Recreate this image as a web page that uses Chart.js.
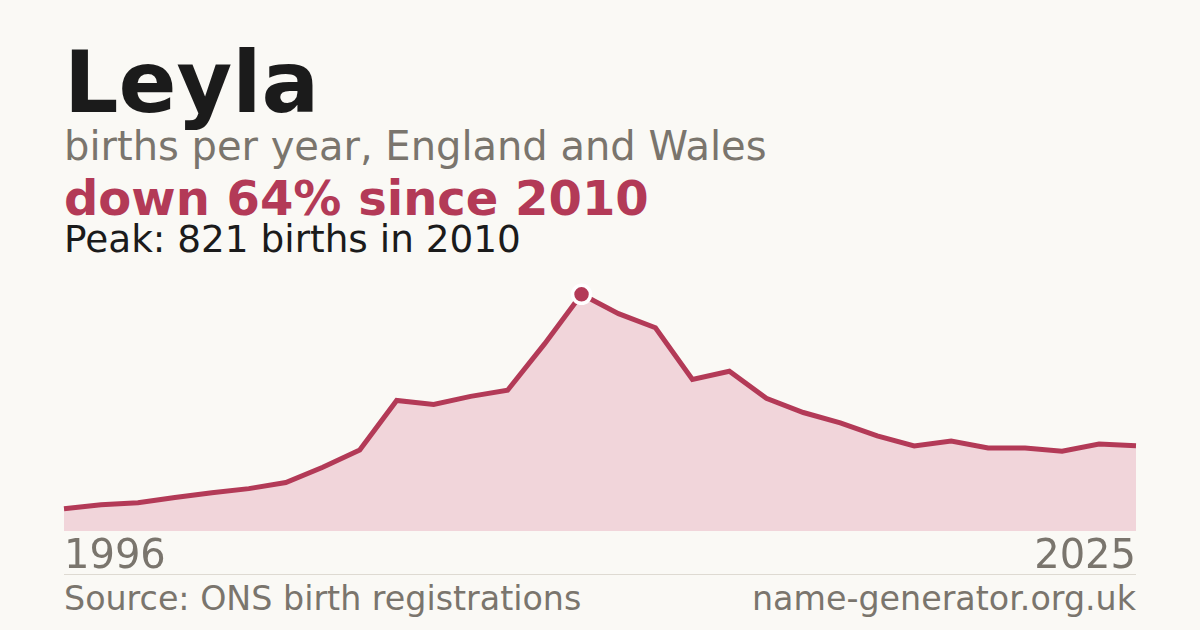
<!DOCTYPE html>
<html>
<head>
<meta charset="utf-8">
<script src="https://cdn.jsdelivr.net/npm/chart.js@4/dist/chart.umd.min.js"></script>
<style>
  html, body { margin: 0; padding: 0; }
  body { width: 1200px; height: 630px; background: #faf9f5; position: relative; overflow: hidden;
         font-family: "DejaVu Sans", sans-serif; }
  .t { position: absolute; left: 64px; line-height: 1; white-space: nowrap; }
  #title { top: 40px; font-size: 85.5px; font-weight: bold; color: #1b1b1b; }
  #sub { top: 126px; font-size: 40px; color: #7a756d; }
  #change { top: 174.4px; font-size: 48px; font-weight: bold; color: #b33a57; }
  #peak { top: 220.5px; font-size: 37.4px; color: #1b1b1b; }
  #rule { position: absolute; left: 64px; top: 574px; width: 1072px; height: 1px; background: #dedad2; }
  #source { top: 582px; font-size: 33.3px; color: #7a756d; }
  #site { top: 582px; left: auto; right: 64px; font-size: 33.3px; color: #7a756d; }
  #wrap { position: absolute; left: 61px; top: 260px; width: 1078px; height: 325px; }
</style>
</head>
<body>
<div class="t" id="title">Leyla</div>
<div class="t" id="sub">births per year, England and Wales</div>
<div class="t" id="change">down 64% since 2010</div>
<div class="t" id="peak">Peak: 821 births in 2010</div>
<div id="rule"></div>
<div class="t" id="source">Source: ONS birth registrations</div>
<div class="t" id="site">name-generator.org.uk</div>
<div id="wrap"><canvas id="chart" width="1078" height="325"></canvas></div>
<script>
// Years
const years = [1996, 1997, 1998, 1999, 2000, 2001, 2002, 2003, 2004, 2005,
               2006, 2007, 2008, 2009, 2010, 2011, 2012, 2013, 2014, 2015,
               2016, 2017, 2018, 2019, 2020, 2021, 2022, 2023, 2024, 2025];

// Births per year
const births = [77, 91, 98, 116, 133, 147, 168, 221, 281, 453,
                439, 467, 488, 649, 821, 754, 705, 526, 554, 460,
                411, 375, 330, 295, 312, 288, 288, 277, 302, 296];

// Only first and last year shown
const tickYears = [1996, 2025];

const red = "#b33a57";
const peakIndex = births.indexOf(Math.max(...births));

const ctx = document.getElementById("chart");

new Chart(ctx, {
  type: "line",
  data: {
    labels: years,
    datasets: [
      {
        data: births,
        tension: 0,
        borderColor: red,
        borderWidth: 5,
        backgroundColor: "#f1d5da",
        fill: "origin",
        clip: false,
        pointRadius: births.map((v, i) => (i == peakIndex ? 9 : 0)),
        pointHoverRadius: 0,
        pointBackgroundColor: red,
        pointBorderColor: "#ffffff",
        pointBorderWidth: 3.5,
      },
    ],
  },
  options: {
    responsive: false,
    animation: false,
    events: [],
    layout: { padding: 0, autoPadding: false },
    plugins: {
      legend: { display: false },
      tooltip: { enabled: false },
    },
    scales: {
      x: {
        offset: false,
        grid: { display: false, drawTicks: false },
        border: { display: false },
        ticks: {
          autoSkip: false,
          maxRotation: 0,
          align: "inner",
          padding: 3,
          color: "#7a756d",
          font: { family: "DejaVu Sans", size: 40 },
          callback: function (value, index) {
            const y = years[index];
            return tickYears.includes(y) ? String(y) : "";
          },
        },
      },
      y: {
        display: false,
        min: 0,
        max: 940,
      },
    },
  },
});
</script>
</body>
</html>
